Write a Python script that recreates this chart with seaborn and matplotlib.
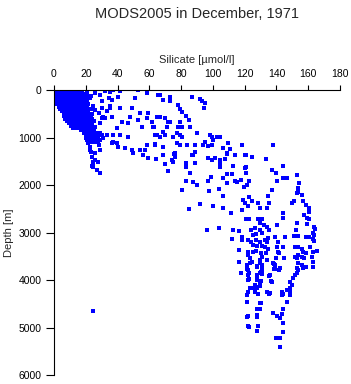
import matplotlib
matplotlib.use("Agg")
import matplotlib.pyplot as plt
import seaborn as sns
import pandas as pd

# ---------------------------------------------------------------------------
# Silicate profiles, MODS2005, December 1971
# ---------------------------------------------------------------------------

# dense surface cluster: depth [m] -> silicate values [umol/l]
surface_levels = {
    0: [0.5, 1.5, 3, 4.5, 6, 7.5, 9, 10.5, 12, 13.5, 15, 16.5],
    10: [0.5, 2, 3.5, 5, 6.5, 8, 9.5, 11, 12.5, 14],
    20: [1, 2.5, 4, 5.5, 7, 8.5, 10, 11.5, 13, 15.5],
    30: [0.5, 2, 3.5, 5, 6.5, 8, 9.5, 11, 12.5, 14, 16],
    50: [1, 2.5, 4, 5.5, 7, 8.5, 10, 11.5, 13, 15, 17],
    75: [0.5, 2, 3.5, 5, 6.5, 8, 9.5, 11, 12.5, 14.5, 16, 18],
    100: [1, 2.5, 4, 5.5, 7, 8.5, 10, 11.5, 13, 15, 17, 19],
    125: [0.5, 2, 3.5, 5, 6.5, 8, 9.5, 11, 12.5, 14, 16, 18],
    150: [1, 2.5, 4, 5.5, 7, 8.5, 10, 11.5, 13, 15, 17, 19, 20.5],
    200: [0.5, 2, 3.5, 5, 6.5, 8, 9.5, 11, 12.5, 14, 16, 18, 20],
    250: [1, 2.5, 4, 5.5, 7, 8.5, 10, 11.5, 13, 15, 17, 19],
    300: [1.5, 3, 4.5, 6, 7.5, 9, 10.5, 12, 13.5, 15, 17, 19.5, 21.5],
    350: [3, 4.5, 6, 7.5, 9, 10.5, 12, 13.5, 15, 17, 19, 21],
    400: [4, 5.5, 7, 8.5, 10, 11.5, 13, 15, 17, 19, 21, 23],
    450: [5, 6.5, 8, 9.5, 11, 12.5, 14, 15.5, 17, 19, 21.5],
    500: [6, 7.5, 9, 10.5, 12, 13.5, 15, 16.5, 18, 20, 22, 24],
    550: [6.5, 8, 9.5, 11, 12.5, 14, 15.5, 17, 19, 21, 23],
    600: [7, 8.5, 10, 11.5, 13, 14.5, 16, 18, 20, 22, 24],
    650: [8, 9.5, 11, 12.5, 14, 15.5, 17, 18.5, 20, 22],
    700: [9.5, 11, 12.5, 14, 15.5, 17, 18.5, 20, 22, 24],
    750: [11, 12.5, 14, 15.5, 17, 19, 21, 23],
    800: [12, 14, 16, 18, 20, 22, 24],
    850: [17, 19, 21, 23, 25],
    900: [19, 21, 23, 25, 27, 29],
    950: [20, 22, 24, 26, 28, 30],
    1000: [20, 22, 24, 26, 28, 31],
    1050: [21, 23, 25, 27, 29],
    1100: [22, 24, 26, 28],
}

# (silicate, depth) pairs, upper ocean spread
upper_pts = [
    (37.1, 0), (35.2, 40), (41.5, 20), (32.1, 20), (29, 105), (22.7, 170),
    (17.6, 20), (52.9, 0), (51, 170), (58.5, 60), (66.7, 105), (40.3, 150),
    (36.5, 210), (35.2, 380), (30.2, 380), (41.5, 380), (49.1, 380),
    (54.1, 480), (59.2, 480), (47.8, 570), (52.9, 630), (58.5, 590),
    (64.8, 570), (42.8, 670), (46.6, 690), (55.4, 780), (62.3, 780),
    (39.7, 800), (30.8, 570), (36.5, 570), (29, 690), (25.8, 780),
    (25.8, 60), (34.6, 170), (30.2, 230), (35.2, 340), (28.3, 480),
    (30.2, 590), (32.1, 590), (33.4, 440), (20.5, 60), (23.5, 120),
    (21, 260), (24.5, 330), (26, 420), (25, 660),
    (33.4, 950), (37.1, 950), (41.5, 950), (46.6, 990), (37.1, 1090),
    (40.3, 1200), (44.7, 1220), (49.1, 1260), (54.1, 1260), (57.3, 1260),
    (58.5, 1160), (63.6, 1140), (66.7, 990), (64.8, 950), (36.5, 1120),
    (39.7, 1120), (49.7, 1330), (56, 1370), (59.2, 1430), (64.2, 1450),
    (69.9, 1560), (71.8, 1710), (68.6, 1370),
    (65.5, 105), (68.6, 210), (73, 150), (73, 230), (78, 320), (79.3, 400),
    (80.6, 460), (83.1, 550), (85, 630), (86.9, 150), (91.9, 190),
    (93.2, 230), (95, 270), (94.4, 380), (61.7, 670), (62.9, 780),
    (66.7, 570), (69.9, 590), (71.8, 670), (73, 670), (71.1, 780), (78, 780),
    (80.6, 780), (79.3, 670), (85.6, 780), (68.6, 880), (63.6, 950),
    (69.9, 950), (74.9, 990), (77.4, 900), (79.3, 950), (80.6, 990),
    (90, 900), (98.2, 950), (99.4, 990), (102.6, 990), (104.5, 990),
    (63.6, 1160), (68.6, 1200), (77.4, 1120), (79.3, 1160), (83.7, 1160),
    (88.7, 1160), (93.8, 1160), (96.9, 1180), (99.4, 1160), (95, 1090),
    (100, 1050), (106.4, 1220), (110.8, 1240), (109.5, 1120), (118.3, 1160),
    (108.9, 1330), (113.9, 1370), (120.2, 1370), (88.7, 1310), (76.2, 1330),
    (86.9, 1370), (137.8, 1160),
    # column below the surface cluster
    (22.6, 1200), (25.8, 1326), (23.9, 1410), (24.5, 1516), (24.5, 1621),
    (27, 1684), (28.9, 1747), (22.6, 1263), (28.9, 1263), (24.5, 1558),
    (23.9, 1600), (25.8, 1474), (27.7, 1516), (23.3, 1305), (28.3, 1158),
    (21.4, 1116), (25.8, 1053), (22.6, 1010), (27, 990),
]

# intermediate depths
mid_pts = [
    (75.5, 1350), (76.2, 1410), (74.9, 1520), (83.1, 1540), (83.1, 1620),
    (87.5, 1370), (88.7, 1540), (85.6, 1750), (96.9, 1430), (99.4, 1470),
    (101.3, 1430), (104.5, 1470), (104.5, 1540), (108.9, 1350),
    (107.6, 1450), (104.5, 1620), (112.7, 1600), (108.9, 1770), (112, 1770),
    (120.8, 1370), (124.6, 1410), (133.4, 1450), (120.8, 1620),
    (120.8, 1750), (120.2, 1640), (137.2, 1680), (139.7, 1750),
    (144.1, 1600), (74.3, 1470),
    (83.1, 1920), (87.5, 1940), (90, 2000), (96.9, 1920), (98.8, 1830),
    (106.4, 1850), (108.9, 1960), (113.9, 1920), (115.2, 1940),
    (117.7, 1890), (122.7, 1920), (121.5, 2000), (119.6, 2040),
    (140.4, 1920), (144.1, 1850), (146.6, 1850), (152.9, 1790),
    (154.2, 1960), (80.6, 2110), (97.6, 2130), (103.9, 2080), (106.4, 2230),
    (122.7, 2250), (119, 2320), (120.2, 2380), (124.6, 2340), (134.7, 2230),
    (137.2, 2110), (135.3, 2380), (128.4, 2380), (129.7, 2480),
    (134.1, 2480), (122.1, 2440), (118.3, 2530), (91.9, 2400), (85, 2500),
    (100.1, 2440), (106.4, 2480), (111.4, 2590), (120.8, 2720),
    (122.7, 2720), (128.4, 2720), (130.9, 2720), (153.6, 2060),
    (153.6, 2150), (152.9, 2170), (156.1, 2210), (158.6, 2420),
    (160.5, 2480), (160.5, 2570), (156.7, 2340), (149.8, 2380),
    (151.1, 2340), (144.1, 2590), (157.4, 2630), (160.5, 2720),
    (159.2, 2690),
    (96.3, 2950), (103.9, 2900), (112.7, 2950), (116.4, 2970), (112, 3140),
    (118.3, 3090), (118.3, 3160), (129.7, 2800), (132.2, 2840),
    (134.1, 2880), (140.4, 2840), (144.1, 2690), (124, 2950), (126.5, 2900),
    (129.7, 2950), (135.3, 2950), (125.2, 3050), (127.1, 3030),
    (130.9, 3010), (134.7, 3120), (139.1, 3090), (145.4, 3090),
    (122.1, 3160), (124, 3200), (127.1, 3160), (129.7, 3200), (132.8, 3160),
    (134.1, 3200), (141, 3200),
    (163, 3010), (163.6, 2880), (164.3, 2930), (163, 3140), (163.6, 3180),
    (152.9, 2800), (152.3, 2950), (159.2, 2820), (151.1, 3070),
    (153.6, 3070), (158.6, 3090), (160.5, 3090), (163.6, 3050),
]

# deep water
deep_pts = [
    (116.4, 3370), (122.1, 3410), (125.2, 3260), (127.8, 3280),
    (130.9, 3280), (132.8, 3300), (134.7, 3350), (140.4, 3300),
    (144.1, 3300), (122.1, 3470), (123.4, 3540), (127.1, 3390),
    (130.3, 3430), (130.9, 3520), (133.4, 3430), (134.1, 3580),
    (141.6, 3430), (139.7, 3540), (144.8, 3540), (116.4, 3620),
    (121.5, 3680), (124.6, 3620), (129.7, 3640), (130.9, 3730),
    (127.8, 3730), (138.5, 3660), (138.5, 3770), (141.6, 3790),
    (122.1, 3790), (130.3, 3830), (130.9, 3870), (127.8, 3920),
    (122.7, 3850), (117.7, 3850), (135.3, 3920), (122.7, 3980),
    (130.3, 4020), (136.6, 4020), (125.2, 3410), (123.4, 3640),
    (129.7, 3580), (127.8, 3710), (130.9, 3680), (130.9, 3790),
    (129.7, 3850), (136, 3890), (139.1, 3680), (139.1, 3770), (142.2, 3750),
    (121.5, 3770), (122.1, 3890), (127.8, 3890), (141, 3410),
    (161.1, 3300), (163, 3410), (165.5, 3390), (162.4, 3520), (163, 3620),
    (157.4, 3540), (158.6, 3430), (152.9, 3540), (153.6, 3470),
    (151.7, 3300), (153.6, 3300), (156.1, 3350), (156.7, 3410),
    (137.8, 3640), (152.9, 3750), (156.7, 3750), (153.6, 3640),
    (158.6, 3730), (163, 3730), (151.7, 3520), (156.1, 3520),
    (153.6, 3790), (156.1, 3680), (152.9, 3850), (151.7, 3890),
    (150.4, 3960),
    (122.1, 4000), (127.8, 4000), (129.7, 4040), (137.2, 4040),
    (148.5, 4040), (149.8, 4100), (148.5, 4170), (126.5, 4100),
    (129.7, 4130), (123.4, 4170), (125.2, 4170), (122.1, 4250),
    (121.5, 4320), (126.5, 4250), (127.8, 4170), (134.1, 4250), (136, 4270),
    (143.5, 4250), (146.6, 4210), (148.5, 4250), (143.5, 4320),
    (148.5, 4320), (146.6, 4460), (121.5, 4460), (129.7, 4480),
    (127.8, 4610), (129.7, 4610), (144.1, 4610), (137.8, 4690),
    (140.4, 4760), (142.2, 4800), (122.1, 4760), (121.5, 4780),
    (127.8, 4740), (127.8, 4780), (144.1, 4900), (122.1, 4970),
    (122.7, 4990), (128.4, 4970), (127.8, 5070), (144.1, 5090),
    (139.7, 5220), (142.2, 5220), (142.2, 5410), (127.1, 4150),
    (135.3, 4290), (144.1, 4290), (143.5, 4720), (128.4, 4290),
    (130.3, 4480), (24.5, 4650),
]

x_ticks = [0, 20, 40, 60, 80, 100, 120, 140, 160, 180]
y_ticks = [0, 1000, 2000, 3000, 4000, 5000, 6000]

# ---------------------------------------------------------------------------

rows = [(si, d) for d, sis in surface_levels.items() for si in sis]
rows += upper_pts + mid_pts + deep_pts
df = pd.DataFrame(rows, columns=["silicate", "depth"])

sns.set_theme(style="white")
plt.rcParams["font.family"] = ["Liberation Sans", "DejaVu Sans"]

fig = plt.figure(figsize=(3.51, 3.84), dpi=100)
ax = fig.add_axes([0.1538, 0.0234, 0.8148, 0.7422])

sns.scatterplot(data=df, x="silicate", y="depth", ax=ax, marker="s", s=5.5,
                color="#0000ff", linewidth=0, legend=False)

ax.set_xlim(0, 180)
ax.set_ylim(6000, 0)
ax.set_xticks(x_ticks)
ax.set_yticks(y_ticks)
ax.xaxis.tick_top()
ax.xaxis.set_label_position("top")
ax.set_xlabel("Silicate [µmol/l]", fontsize=8, labelpad=5)
ax.set_ylabel("Depth [m]", fontsize=8, labelpad=3)
ax.tick_params(axis="x", which="both", direction="out", length=3.6, width=0.8,
               pad=4, labelsize=7.5, colors="black", top=True, bottom=False)
ax.tick_params(axis="y", which="both", direction="out", length=6, width=0.8,
               pad=3, labelsize=7.5, colors="black", left=True)

for side in ["right", "bottom"]:
    ax.spines[side].set_visible(False)
for side in ["left", "top"]:
    ax.spines[side].set_color("black")
    ax.spines[side].set_linewidth(0.8)

fig.text(0.561, 0.963, "MODS2005 in December, 1971", ha="center", va="center",
         fontsize=10.5)

fig.savefig("out.png", dpi=100)
